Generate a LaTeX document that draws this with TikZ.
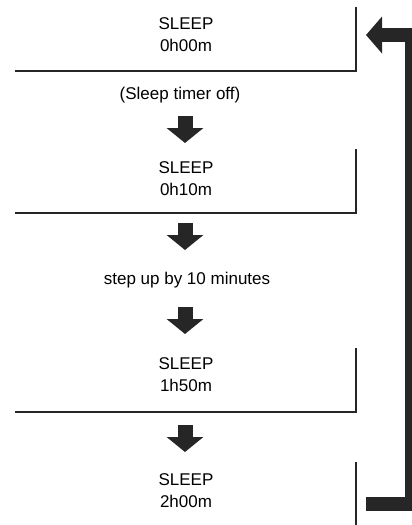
\documentclass[tikz,border=0pt]{standalone}
\usepackage{fontspec}
\setmainfont{Liberation Sans}
\usetikzlibrary{arrows.meta}
\definecolor{ink}{gray}{0.15}
\tikzset{
  readout/.style={align=center, font=\fontsize{17}{22}\selectfont, inner sep=0pt},
  frame/.style={line width=2.7pt, ink},
  fatarrow/.style={line width=15pt, ink, -{Triangle[width=36pt,length=15pt]}},
  looparrow/.style={line width=14pt, ink, -{Triangle[width=36pt,length=16pt]}},
}
\begin{document}
\begin{tikzpicture}[x=1pt, y=-1pt]
    \useasboundingbox[fill=white] (0,0) rectangle (412,525);
    \clip (0,0) rectangle (412,525);

    %display readouts
    \node[readout] (sleep0) at (186,35) {SLEEP\\0h00m};
    \node[readout] (off) at (180,95) {(Sleep timer off)};
    \node[readout] (sleep1) at (186,178.5) {SLEEP\\0h10m};
    \node[readout] (stepup) at (187,280) {step up by 10 minutes};
    \node[readout] (sleep2) at (186,375) {SLEEP\\1h50m};
    \node[readout] (sleep3) at (186,490.5) {SLEEP\\2h00m};

    %frame corners under each readout
    \foreach \t/\b in {7/71, 149/213, 348/412} {
        \draw[frame] (356,\t) -- (356,\b) -- (15,\b);
    }
    \draw[frame] (356,462) -- (356,530);

    %down arrows
    \foreach \y [count=\i] in {116, 223, 307, 425} {
        \coordinate (top\i) at (185,\y);
        \coordinate (tip\i) at (185,\y+27);
        \draw[fatarrow] (top\i) -- (tip\i);
    }

    %back to the start
    \coordinate (loopstart) at (366,504);
    \coordinate (loopend) at (366,35);
    \draw[looparrow] (loopstart) -- (412,504) -- (412,35) -- (loopend);

\end{tikzpicture}
\end{document}
